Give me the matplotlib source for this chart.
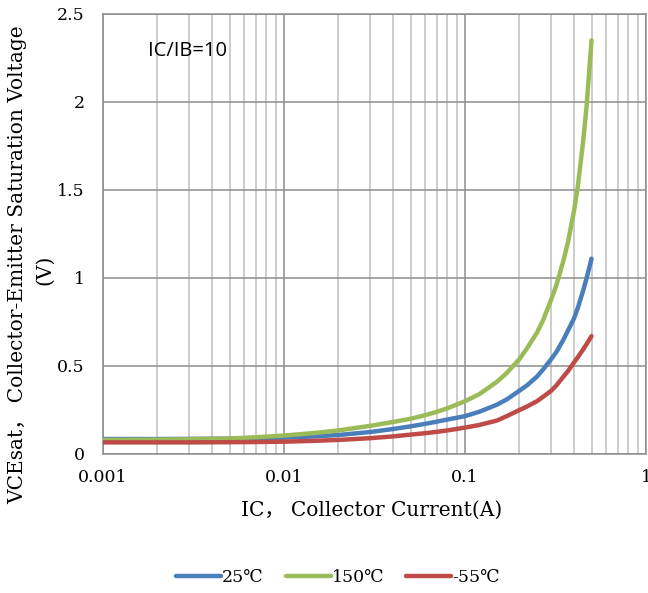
import matplotlib
matplotlib.use("Agg")
import matplotlib.pyplot as plt
from matplotlib.ticker import LogLocator, FixedLocator, NullFormatter

# ---- data ----
ic = [0.001, 0.002, 0.003, 0.005, 0.007, 0.01, 0.015, 0.02, 0.03, 0.04,
      0.05, 0.06, 0.07, 0.08, 0.1, 0.12, 0.15, 0.17, 0.2, 0.22,
      0.25, 0.27, 0.3, 0.32, 0.35, 0.37, 0.4, 0.42, 0.45, 0.47, 0.5]
v_25 = [0.085, 0.085, 0.086, 0.087, 0.089, 0.093, 0.10, 0.108, 0.125, 0.142,
        0.157, 0.171, 0.184, 0.196, 0.215, 0.24, 0.28, 0.31, 0.36, 0.39,
        0.44, 0.48, 0.54, 0.58, 0.65, 0.70, 0.77, 0.83, 0.93, 1.00, 1.11]
v_150 = [0.080, 0.082, 0.084, 0.088, 0.095, 0.105, 0.12, 0.134, 0.16, 0.182,
         0.20, 0.22, 0.24, 0.26, 0.30, 0.34, 0.41, 0.46, 0.54, 0.60,
         0.69, 0.76, 0.88, 0.96, 1.10, 1.20, 1.38, 1.52, 1.78, 1.98, 2.35]
v_m55 = [0.066, 0.066, 0.066, 0.067, 0.068, 0.07, 0.075, 0.08, 0.09, 0.10,
         0.11, 0.118, 0.126, 0.134, 0.15, 0.165, 0.19, 0.215, 0.25, 0.27,
         0.30, 0.325, 0.36, 0.39, 0.44, 0.47, 0.52, 0.55, 0.595, 0.625, 0.67]
series_labels = ["25℃", "150℃", "-55℃"]
x_ticks = [0.001, 0.01, 0.1, 1]
x_ticklabels = ["0.001", "0.01", "0.1", "1"]
y_ticks = [0, 0.5, 1, 1.5, 2, 2.5]
y_ticklabels = ["0", "0.5", "1", "1.5", "2", "2.5"]

FONT = ["DejaVu Serif", "Noto Sans CJK SC", "DejaVu Sans"]

fig = plt.figure(figsize=(6.48, 5.93), dpi=100)
ax = fig.add_axes([103/648, 1-454/593, (646-103)/648, (454-14)/593])

colors = ["#4A7EBB", "#9BBB59", "#BE4B48"]
lines = []
for vals, c, lab in zip([v_25, v_150, v_m55], colors, series_labels):
    l, = ax.plot(ic, vals, color=c, lw=3.2, solid_capstyle="round",
                 solid_joinstyle="round", label=lab, zorder=3)
    lines.append(l)

ax.set_xscale("log")
ax.set_xlim(0.001, 1)
ax.set_ylim(0, 2.5)
ax.xaxis.set_major_locator(FixedLocator(x_ticks))
ax.xaxis.set_minor_locator(LogLocator(base=10, subs=range(2, 10)))
ax.xaxis.set_minor_formatter(NullFormatter())
ax.set_xticks(x_ticks)
ax.set_xticklabels(x_ticklabels, family=FONT, fontsize=12.5)
ax.set_yticks(y_ticks)
ax.set_yticklabels(y_ticklabels, family=FONT, fontsize=12.5)
ax.tick_params(axis="both", which="both", length=0)
ax.tick_params(axis="x", pad=10.5)
ax.tick_params(axis="y", pad=13)

ax.grid(True, which="major", axis="both", color="#8C8C8C", lw=1.1, zorder=0)
ax.grid(True, which="minor", axis="x", color="#BFBFBF", lw=1.1, zorder=0)
for s in ax.spines.values():
    s.set_color("#8C8C8C")
    s.set_linewidth(1.1)

ax.text(0.083, 0.916, "IC/IB=10", transform=ax.transAxes, fontsize=14.5,
        family=["Open Sans", "DejaVu Sans"], va="center", ha="left")

fig.text(372/648, 1-510/593, "IC， Collector Current(A)", ha="center", va="center",
         family=FONT, fontsize=14.5)
fig.text(18/648, 1-265/593, "VCEsat， Collector-Emitter Saturation Voltage",
         rotation=90, ha="center", va="center", family=FONT, fontsize=14.5)
fig.text(45/648, 1-270/593, "(V)", rotation=90, ha="center", va="center",
         family=FONT, fontsize=14.5)

fig.legend(handles=lines, labels=series_labels, loc="center", ncol=3,
           bbox_to_anchor=(338/648, 1-578/593), frameon=False,
           prop={"family": FONT, "size": 12.5}, handlelength=2.6,
           handletextpad=0.05, columnspacing=1.25)

fig.savefig("out.png", dpi=100)
